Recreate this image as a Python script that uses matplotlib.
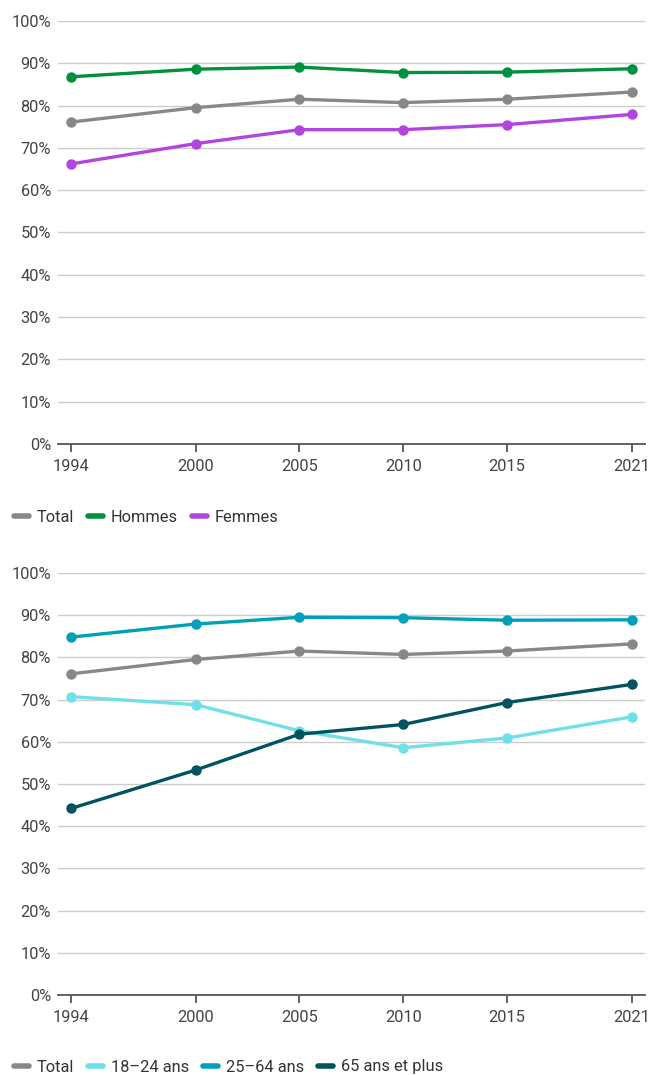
import matplotlib
matplotlib.use("Agg")
import matplotlib.pyplot as plt
from matplotlib.lines import Line2D
from matplotlib.ticker import FuncFormatter

plt.rcParams["font.family"] = ["Roboto", "DejaVu Sans"]

years = [1994, 2000, 2005, 2010, 2015, 2021]

# top panel: by sex
total = [76.1, 79.5, 81.5, 80.7, 81.5, 83.2]
hommes = [86.8, 88.6, 89.1, 87.8, 87.9, 88.7]
femmes = [66.2, 71.0, 74.3, 74.3, 75.5, 77.9]

# bottom panel: by age
age_18_24 = [70.7, 68.8, 62.6, 58.6, 60.9, 65.9]
age_25_64 = [84.8, 87.9, 89.5, 89.4, 88.8, 88.9]
age_65_plus = [44.2, 53.3, 61.8, 64.1, 69.3, 73.6]

top_series = [("Total", total, "#888888"),
              ("Hommes", hommes, "#00913F"),
              ("Femmes", femmes, "#B145DE")]
bottom_series = [("Total", total, "#888888"),
                 ("18\u201324 ans", age_18_24, "#6FE0E8"),
                 ("25\u201364 ans", age_25_64, "#00A0B8"),
                 ("65 ans et plus", age_65_plus, "#00535F")]

TXT = "#444444"
GRID = "#CCCCCC"
FS = 11.8


def draw_panel(fig, rect, series, legend_y):
    ax = fig.add_axes(rect)
    for name, vals, col in series:
        ax.plot(years, vals, color=col, lw=2.4, marker="o", ms=6.5,
                solid_capstyle="round", label=name, zorder=3)
    ax.set_ylim(0, 100)
    ax.set_xlim(1993.37, 2021.63)
    ax.set_yticks(range(0, 101, 10))
    ax.yaxis.set_major_formatter(FuncFormatter(lambda v, _: f"{v:.0f}%"))
    ax.set_xticks(years)
    ax.grid(axis="y", color=GRID, lw=1)
    ax.set_axisbelow(True)
    for s in ["top", "right", "left"]:
        ax.spines[s].set_visible(False)
    ax.spines["bottom"].set_color("#555555")
    ax.spines["bottom"].set_linewidth(1.3)
    ax.tick_params(axis="y", length=0, pad=5, labelsize=FS, labelcolor=TXT)
    ax.tick_params(axis="x", length=6, width=1.3, color="#555555", pad=5,
                   labelsize=FS, labelcolor=TXT)
    handles = [Line2D([], [], color=col, lw=4, solid_capstyle="round")
               for _, _, col in series]
    leg = fig.legend(handles, [n for n, _, _ in series], loc="center left",
                     bbox_to_anchor=(0.021, legend_y), ncol=len(series),
                     frameon=False, fontsize=FS, handlelength=0.95,
                     handletextpad=0.45, columnspacing=0.85, borderaxespad=0,
                     borderpad=0)
    for t in leg.get_texts():
        t.set_color("#333333")
    return ax


fig = plt.figure(figsize=(6.5, 10.75), dpi=100)
draw_panel(fig, [0.089, 0.587, 0.903, 0.3935], top_series, 1 - 517 / 1075)
draw_panel(fig, [0.089, 0.0744, 0.903, 0.3926], bottom_series, 1 - 1067 / 1075)
fig.savefig("out.png", dpi=100)
